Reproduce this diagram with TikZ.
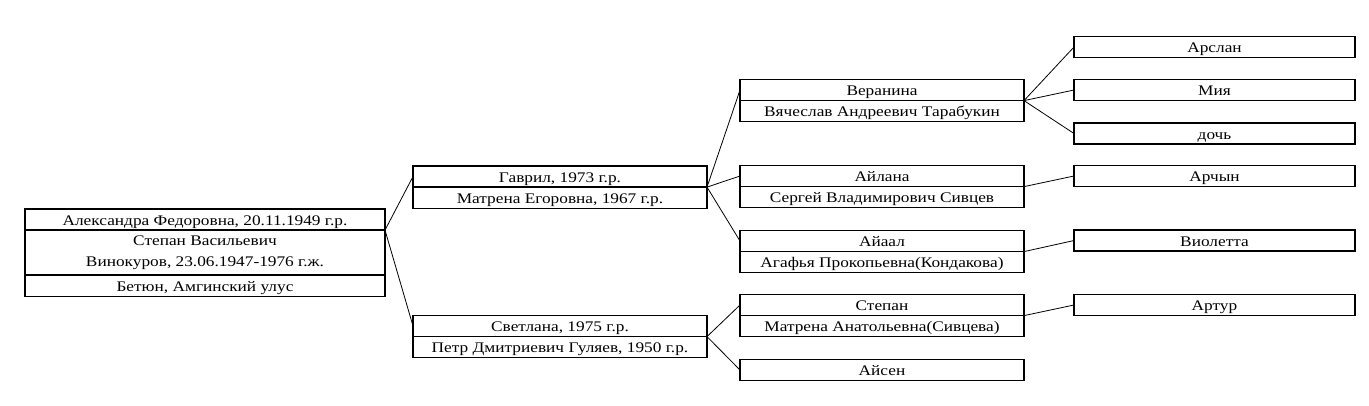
\documentclass[tikz,border=0pt]{standalone}
\usepackage{fontspec}
\setmainfont{Liberation Serif}[FakeStretch=1.18]
\usetikzlibrary{positioning}

\begin{document}
\begin{tikzpicture}[x=0.75pt, y=-0.75pt, font=\fontsize{11}{15.5}\selectfont,
  cell/.style={draw, line width=1pt, inner sep=0pt, outer sep=0pt, minimum height=15.9pt, align=center},
  onerow/.style={cell, text height=9.75pt, text depth=1.5pt},
  rootcell/.style={onerow, minimum width=270pt},
  gentwo/.style={onerow, minimum width=220.5pt},
  genthree/.style={onerow, minimum width=213pt},
  genfour/.style={onerow, minimum width=210.75pt},
  link/.style={line width=0.6pt}]
  \useasboundingbox (0,0) rectangle (1369,405);
  % root family
  \node[rootcell] (root1) at (205,219.5) {Александра Федоровна, 20.11.1949 г.р.};
  \node[cell, minimum width=270pt, minimum height=33.75pt, below=0pt of root1] (root2) {Степан Васильевич\\Винокуров, 23.06.1947-1976 г.ж.};
  \node[rootcell, below=0pt of root2] (root3) {Бетюн, Амгинский улус};
  % children
  \node[gentwo] (gavril) at (560,176.5) {Гаврил, 1973 г.р.};
  \node[gentwo, below=0pt of gavril] (gavrilSp) {Матрена Егоровна, 1967 г.р.};
  \node[gentwo] (svetlana) at (560,326) {Светлана, 1975 г.р.};
  \node[gentwo, below=0pt of svetlana] (svetlanaSp) {Петр Дмитриевич Гуляев, 1950 г.р.};
  % grandchildren
  \node[genthree] (veranina) at (882,90) {Веранина};
  \node[genthree, below=0pt of veranina] (veraninaSp) {Вячеслав Андреевич Тарабукин};
  \node[genthree] (ailana) at (882,176) {Айлана};
  \node[genthree, below=0pt of ailana] (ailanaSp) {Сергей Владимирович Сивцев};
  \node[genthree] (aiaal) at (882,241) {Айаал};
  \node[genthree, below=0pt of aiaal] (aiaalSp) {Агафья Прокопьевна(Кондакова)};
  \node[genthree] (stepan) at (882,305) {Степан};
  \node[genthree, below=0pt of stepan] (stepanSp) {Матрена Анатольевна(Сивцева)};
  \node[genthree] (aisen) at (882,370) {Айсен};
  % great-grandchildren
  \node[genfour] (arslan) at (1214.5,47) {Арслан};
  \node[genfour] (miya) at (1214.5,90) {Мия};
  \node[genfour] (doch) at (1214.5,133.5) {дочь};
  \node[genfour] (archyn) at (1214.5,176) {Арчын};
  \node[genfour] (violetta) at (1214.5,240.5) {Виолетта};
  \node[genfour] (artur) at (1214.5,305) {Артур};
  % links
  \foreach \c in {gavril, svetlana} \draw[link] (root1.south east) -- (\c.west);
  \foreach \c in {veranina, ailana, aiaal} \draw[link] (gavril.south east) -- (\c.west);
  \foreach \c in {stepan, aisen} \draw[link] (svetlana.south east) -- (\c.west);
  \foreach \c in {arslan, miya, doch} \draw[link] (veranina.south east) -- (\c.west);
  \draw[link] (ailana.south east) -- (archyn.west);
  \draw[link] (aiaal.south east) -- (violetta.west);
  \draw[link] (stepan.south east) -- (artur.west);
\end{tikzpicture}
\end{document}
